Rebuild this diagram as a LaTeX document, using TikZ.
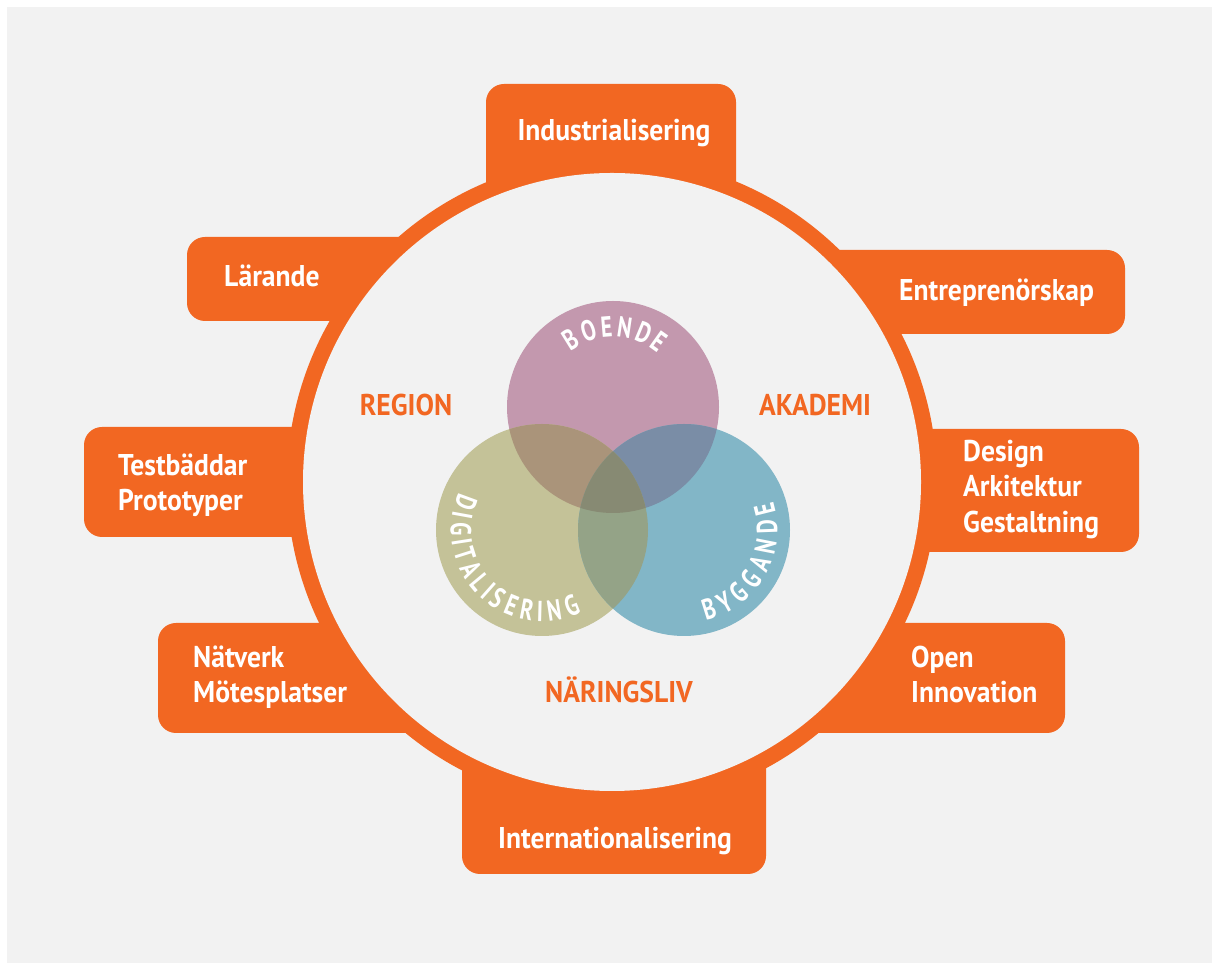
\documentclass[tikz,border=0pt]{standalone}
\usepackage{fontspec}
\setmainfont{PT Sans}
\newfontfamily\boxfont{PT Sans}[FakeStretch=0.92]
\newfontfamily\vennfont{PT Sans}[FakeStretch=0.75]
\newcommand\vfnt{\vennfont\bfseries\fontsize{29}{29}\selectfont}
\definecolor{orng}{HTML}{F26722}
\definecolor{bggray}{HTML}{F2F2F2}
\definecolor{vpink}{HTML}{C398AE}
\definecolor{volive}{HTML}{C4C298}
\definecolor{vblue}{HTML}{82B6C7}
\definecolor{vpo}{HTML}{AA947A}
\definecolor{vpb}{HTML}{7A8DA6}
\definecolor{vob}{HTML}{94A387}
\definecolor{vall}{HTML}{878A73}
\tikzset{
  obox/.style={fill=orng, rounded corners=18pt},
  boxtxt/.style={text=white, font=\boxfont\bfseries\fontsize{30}{35}\selectfont, inner sep=0pt, anchor=base west},
  boxtxtc/.style={boxtxt, anchor=base},
  sector/.style={text=orng, font=\boxfont\bfseries\fontsize{30}{35}\selectfont, inner sep=0pt, anchor=base},
  vletter/.style={text=white, font=\vfnt, inner sep=0pt, text height=20.3pt, text depth=0pt, anchor=center}
}
% #1 name prefix, #2 centre name, #3 radius, #4 middle angle, #5 direction (+1 ccw, -1 cw), #6 tracking, #7 letter/width list
\newcommand\arcword[7]{%
  \xdef\totang{0}%
  \foreach \ch/\w in {#7}{%
    \pgfmathsetmacro\tmpang{\totang + (\w + #6)/(#3)*180/pi}%
    \xdef\totang{\tmpang}%
  }%
  \pgfmathsetmacro\tmpang{#4 - #5*(\totang - (#6)/(#3)*180/pi)/2}%
  \xdef\curang{\tmpang}%
  \foreach \ch/\w [count=\i] in {#7}{%
    \pgfmathsetmacro\stepang{(\w + #6)/(#3)*180/pi}%
    \pgfmathsetmacro\midang{\curang + #5*(\w/(#3)*180/pi)/2}%
    \pgfmathsetmacro\rot{\midang + #5*90}%
    \node[vletter, rotate=\rot] (#1\i) at ([shift={(\midang:#3)}]#2) {\ch};%
    \pgfmathsetmacro\newang{\curang + #5*\stepang}%
    \xdef\curang{\newang}%
  }%
}
\begin{document}
\begin{tikzpicture}[x=1pt,y=1pt]
\useasboundingbox (0,0) rectangle (1212,963);
\fill[white] (0,0) rectangle (1212,963);
\fill[bggray] (7,0) rectangle (1212,956);
% tabs
\fill[obox] (486,713) rectangle (736,879);
\fill[obox] (700,629) rectangle (1125,713);
\fill[obox] (700,411) rectangle (1139,534);
\fill[obox] (700,230) rectangle (1065,340);
\fill[obox] (462,89) rectangle (766,263);
\fill[obox] (158,230) rectangle (500,340);
\fill[obox] (84,426) rectangle (500,536);
\fill[obox] (187,642) rectangle (500,726);
% ring
\coordinate (C) at (612,481);
\fill[orng] (C) circle[radius=325];
\fill[bggray] (C) circle[radius=309];
% venn
\coordinate (P) at (613,556);
\coordinate (O) at (542,433);
\coordinate (B) at (684,433);
\fill[vpink] (P) circle[radius=106];
\fill[volive] (O) circle[radius=106];
\fill[vblue] (B) circle[radius=106];
\begin{scope}
  \clip (P) circle[radius=106];
  \fill[vpo] (O) circle[radius=106];
  \fill[vpb] (B) circle[radius=106];
\end{scope}
\begin{scope}
  \clip (O) circle[radius=106];
  \fill[vob] (B) circle[radius=106];
\end{scope}
\begin{scope}
  \clip (P) circle[radius=106];
  \clip (O) circle[radius=106];
  \fill[vall] (B) circle[radius=106];
\end{scope}
\arcword{boe}{P}{80}{88.5}{-1}{5}{B/13.4,O/15.3,E/11.7,N/15.1,D/14.3,E/11.7}
\arcword{dig}{O}{81}{225.5}{1}{3.6}{D/14.3,I/6.3,G/13.6,I/6.3,T/11.4,A/13,L/10.8,I/6.3,S/11.4,E/11.7,R/13,I/6.3,N/15.1,G/13.6}
\arcword{byg}{B}{83}{-29.5}{1}{4.4}{B/13.4,Y/12.3,G/13.6,G/13.6,A/13,N/15.1,D/14.3,E/11.7}
% sector labels
\node[sector] (region) at (406,547) {REGION};
\node[sector] (akademi) at (815,547) {AKADEMI};
\node[sector] (naring) at (619,260) {NÄRINGSLIV};
% tab labels
\node[boxtxtc] (ind) at (614,822) {Industrialisering};
\node[boxtxt] (ent) at (899,662) {Entreprenörskap};
\node[boxtxt] (des1) at (963,501) {Design};
\node[boxtxt] (des2) at (963,466) {Arkitektur};
\node[boxtxt] (des3) at (963,430) {Gestaltning};
\node[boxtxt] (open1) at (911,295) {Open};
\node[boxtxt] (open2) at (911,260) {Innovation};
\node[boxtxtc] (int) at (615,114) {Internationalisering};
\node[boxtxt] (nat1) at (193,295) {Nätverk};
\node[boxtxt] (nat2) at (193,260) {Mötesplatser};
\node[boxtxt] (test1) at (118,487) {Testbäddar};
\node[boxtxt] (test2) at (118,452) {Prototyper};
\node[boxtxt] (lar) at (224,676) {Lärande};
\end{tikzpicture}
\end{document}
